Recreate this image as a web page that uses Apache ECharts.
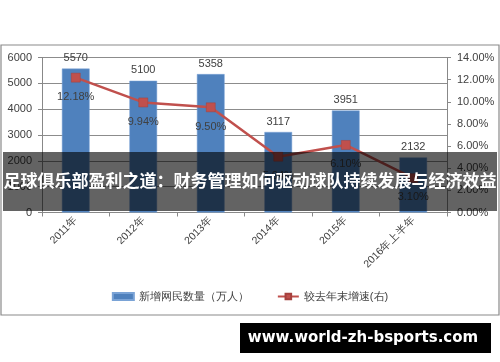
<!DOCTYPE html>
<html><head><meta charset="utf-8">
<script src="https://cdn.jsdelivr.net/npm/echarts@6/dist/echarts.min.js"></script>
<style>html,body{margin:0;padding:0;background:#fff}#c{width:500px;height:362px}</style>
</head><body><div id="c"></div>
<script>
const categories = ['2011年','2012年','2013年','2014年','2015年','2016年上半年'];
const netUsers = [5570, 5100, 5358, 3117, 3951, 2132];
const growthRate = [12.18, 9.94, 9.50, 5.04, 6.10, 3.10];
const leftTicks = {min: 0, max: 6000, interval: 1000};
const rightTicks = {min: 0, max: 14, interval: 2};
const seriesNames = ['新增网民数量（万人）', '较去年末增速(右)'];
const titleText = '足球俱乐部盈利之道：财务管理如何驱动球队持续发展与经济效益';
const watermark = 'www.world-zh-bsports.com';

const chart = echarts.init(document.getElementById('c'), null, {renderer: 'canvas'});
const txt = '#404040';
const font = 'Liberation Sans';
chart.setOption({
  animation: false,
  backgroundColor: '#fff',
  textStyle: {fontFamily: font},
  grid: {left: 42, right: 53, top: 57.5, bottom: 149.5, containLabel: false},
  legend: {
    bottom: 55, left: 'center', itemGap: 28, itemWidth: 21, itemHeight: 7,
    textStyle: {fontFamily: font, fontSize: 11, color: txt},
    data: [{name: seriesNames[0], icon: 'rect'}, {name: seriesNames[1]}]
  },
  xAxis: {
    type: 'category', data: categories,
    axisLine: {lineStyle: {color: '#888'}},
    axisTick: {show: true, alignWithLabel: false, length: 4, lineStyle: {color: '#888'}},
    axisLabel: {rotate: 45, fontSize: 10.5, color: txt, fontFamily: font, margin: 6}
  },
  yAxis: [{
    type: 'value', min: leftTicks.min, max: leftTicks.max, interval: leftTicks.interval,
    axisLine: {show: true, lineStyle: {color: '#888'}},
    axisTick: {show: true, length: 4, lineStyle: {color: '#888'}},
    axisLabel: {fontSize: 11, color: txt, margin: 10, fontFamily: font, formatter: v => String(v)},
    splitLine: {lineStyle: {color: '#8c8c8c'}}
  }, {
    type: 'value', min: rightTicks.min, max: rightTicks.max, interval: rightTicks.interval,
    axisLine: {show: true, lineStyle: {color: '#888'}},
    axisTick: {show: true, length: 4, lineStyle: {color: '#888'}},
    axisLabel: {fontSize: 11, color: txt, margin: 10, fontFamily: font,
      formatter: v => v.toFixed(2) + '%'},
    splitLine: {show: false}
  }],
  series: [{
    name: seriesNames[0], type: 'bar', data: netUsers, barWidth: '41%',
    itemStyle: {color: '#4f81bd', borderColor: '#7aa3d6', borderWidth: 0.5},
    label: {show: true, position: 'top', distance: 5, fontSize: 11, color: txt, fontFamily: font}
  }, {
    name: seriesNames[1], type: 'line', yAxisIndex: 1, data: growthRate,
    symbol: 'rect', symbolSize: 9,
    lineStyle: {color: '#c0504d', width: 2.5},
    itemStyle: {color: '#c0504d', borderColor: '#a5403d', borderWidth: 0.5},
    label: {show: true, position: 'bottom', distance: 9, fontSize: 11, color: txt, fontFamily: font,
      formatter: p => p.value.toFixed(2) + '%'}
  }],
  graphic: [
    {type: 'rect', z: 100, shape: {x: 1, y: 45, width: 498, height: 270},
      style: {fill: 'none', stroke: '#8a8a8a', lineWidth: 1.2}},
    {type: 'rect', z: 100, shape: {x: 3, y: 152, width: 494, height: 59},
      style: {fill: 'rgba(0,0,0,0.61)'}},
    {type: 'text', z: 101, x: 250, y: 181,
      style: {text: titleText, fill: '#fff', font: 'bold 17px "Noto Sans CJK SC"',
        textAlign: 'center', textVerticalAlign: 'middle'}},
    {type: 'rect', z: 100, shape: {x: 240, y: 323, width: 251, height: 30},
      style: {fill: '#000'}},
    {type: 'text', z: 101, x: 363, y: 338,
      style: {text: watermark, fill: '#fff', font: 'bold 15px "DejaVu Sans"',
        textAlign: 'center', textVerticalAlign: 'middle'}}
  ]
});
</script></body></html>
